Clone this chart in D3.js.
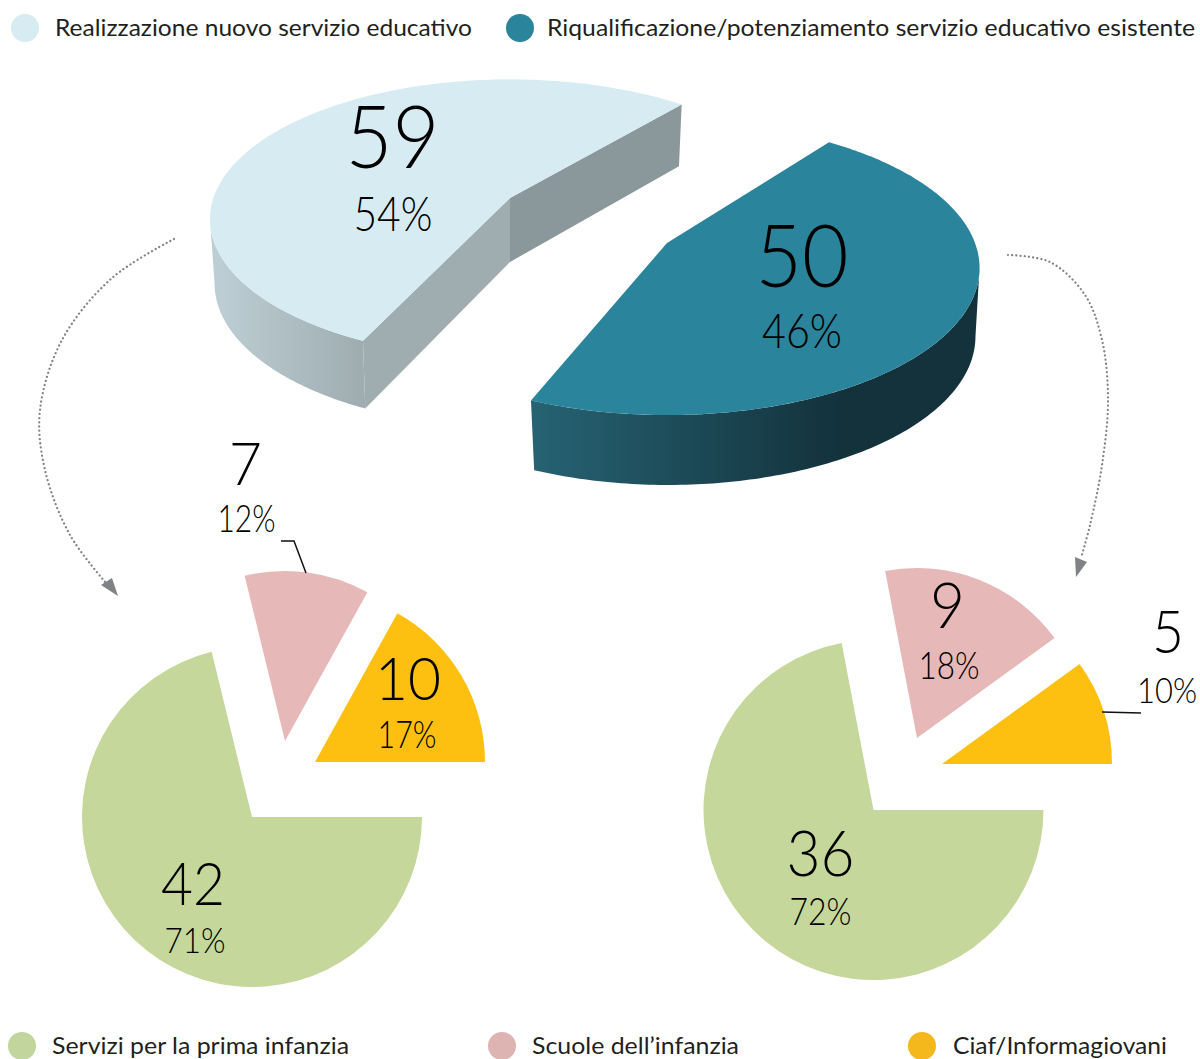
<!DOCTYPE html>
<html><head><meta charset="utf-8">
<script src="https://cdn.jsdelivr.net/npm/d3@7"></script>
<style>html,body{margin:0;padding:0;background:#fff}svg{display:block}text{fill:#000}</style>
</head><body><svg id="c" width="1200" height="1059"></svg>
<script>
const topCategories = ["Riqualificazione/potenziamento servizio educativo esistente","Realizzazione nuovo servizio educativo"];
const topValues = [50,59];
const topPercents = ["46%","54%"];
const subCategories = ["Servizi per la prima infanzia","Scuole dell’infanzia","Ciaf/Informagiovani"];
const leftValues = [42,7,10];
const leftPercents = ["71%","12%","17%"];
const rightValues = [36,9,5];
const rightPercents = ["72%","18%","10%"];

const svg = d3.select("#c");
const defs = svg.append("defs");
const DEG = Math.PI/180;
const NUM = "Lato, sans-serif", LEG = "Lato, sans-serif";
const subColors = d3.scaleOrdinal(subCategories,["#c5d79a","#e6b8b7","#fdc010"]);

function grad(id,x1,x2,c1,c2){
  const g=defs.append("linearGradient").attr("id",id).attr("gradientUnits","userSpaceOnUse")
    .attr("x1",x1).attr("x2",x2).attr("y1",0).attr("y2",0);
  g.append("stop").attr("offset",0).attr("stop-color",c1);
  g.append("stop").attr("offset",1).attr("stop-color",c2);
}
grad("wallLight",222,362,"#bccdd3","#9fadb1");
grad("wallDark",537,840,"#266272","#13323c");

// perspective projection of a unit-circle angle (clockwise from top)
const projector = (cx,cy,rx,ry,a) => t => {
  const u=Math.sin(t), v=-Math.cos(t), w=1-a*v;
  return [cx+rx*u/w, cy+ry*v/w];
};
const lineGen = d3.line();
const sample = (p,t0,t1,n=120) => d3.range(n+1).map(i=>p(t0+(t1-t0)*i/n));

const topPie = d3.pie().sort(null).startAngle(37.5*DEG).endAngle(397.5*DEG)(topValues);
const darkArc = topPie[0], lightArc = topPie[1];
const lightTurn = 2.7*DEG, darkTurn = -0.8*DEG;

// light slice
{
  const a=.151;
  const top=projector(510,198,296.6,136.5,a), bot=projector(510,262,292,140,a);
  const ap=[510,198], bp=[510,262], s=lightArc.startAngle+lightTurn, e=lightArc.endAngle+lightTurn;
  const edge=2*Math.PI-Math.acos(-a);
  svg.append("path").attr("fill","url(#wallLight)")
    .attr("d",lineGen([...sample(top,s,edge),...sample(bot,edge,s)])+"Z");
  svg.append("path").attr("fill","#9fadb1")
    .attr("d",lineGen([ap,top(s),bot(s),bp])+"Z");
  svg.append("path").attr("fill","#8a989c")
    .attr("d",lineGen([ap,top(e),bot(e),bp])+"Z");
  svg.append("path").attr("fill","#d6ebf2")
    .attr("d",lineGen([ap,...sample(top,s,e,200)])+"Z");
}
// dark slice
{
  const a=.17;
  const top=projector(667,243,308,142.8,a), bot=projector(668,311,303,144.4,a);
  const ap=[667,243], s=darkArc.startAngle+darkTurn, e=darkArc.endAngle+darkTurn;
  const edge=Math.acos(-a);
  svg.append("path").attr("fill","url(#wallDark)")
    .attr("d",lineGen([...sample(top,edge,e),...sample(bot,e,edge)])+"Z");
  svg.append("path").attr("fill","#2a849b")
    .attr("d",lineGen([ap,...sample(top,s,e,200)])+"Z");
}

// lower exploded pies
const arc = d3.arc().innerRadius(0);
const subPie = d3.pie().sort(null).startAngle(Math.PI/2).endAngle(Math.PI/2+2*Math.PI);
function drawSub(values,apexes,r){
  subPie(values).forEach((d,i)=>{
    svg.append("path").attr("fill",subColors(subCategories[i]))
      .attr("transform",`translate(${apexes[i]})`)
      .attr("d",arc.outerRadius(r)(d));
  });
}
drawSub(leftValues,[[252,817],[285,741],[315,762]],170);
drawSub(rightValues,[[873.5,810],[917,738],[942,764]],170);

// leaders
const leader=(pts)=>svg.append("path").attr("fill","none").attr("stroke","#111").attr("stroke-width",1.5).attr("d",lineGen(pts));
leader([[281,541],[294,541],[306,573]]);
leader([[1102,712],[1141,713]]);

// dotted arrows
const curve=d3.line().curve(d3.curveCatmullRom.alpha(.5));
function arrow(pts,head){
  svg.append("path").attr("fill","none").attr("stroke","#808285").attr("stroke-width",2.2)
    .attr("stroke-linecap","round").attr("stroke-dasharray","0.1 4.1").attr("d",curve(pts));
  svg.append("path").attr("fill","#808285").attr("d",lineGen(head)+"Z");
}
arrow([[174,239],[112,278],[62,340],[40,410],[45,470],[70,535],[106,583]],[[118,596],[101,585],[112,578]]);
arrow([[1008,255],[1050,262],[1085,295],[1102,340],[1108,400],[1102,465],[1090,525],[1081,558]],[[1076,577],[1075,557],[1087,562]]);

// value labels
function label(val,pct,x1,y1,s1,l1,x2,y2,s2,l2){
  svg.append("text").attr("x",x1).attr("y",y1).attr("text-anchor","middle").attr("font-family",NUM)
    .attr("font-weight",300).attr("font-size",s1)
    .attr("textLength",l1).attr("lengthAdjust","spacingAndGlyphs").text(val);
  svg.append("text").attr("x",x2).attr("y",y2).attr("text-anchor","middle").attr("font-family",NUM)
    .attr("font-weight",300).attr("font-size",s2)
    .attr("textLength",l2).attr("lengthAdjust","spacingAndGlyphs").text(pct);
}
label(topValues[1],topPercents[1],392.5,168,86,94,393,231,47,79);
label(topValues[0],topPercents[0],802,287,86,93,802,348,47,80);
label(leftValues[0],leftPercents[0],193,905,60,64,195,953,36,61);
label(leftValues[1],leftPercents[1],245.5,485,60,33,246.5,532,37,58);
label(leftValues[2],leftPercents[2],408,700,60,66,407,748,37,59);
label(rightValues[0],rightPercents[0],820.5,876,64,68,820.5,925,38,62);
label(rightValues[1],rightPercents[1],947.5,628,64,35,949,679,38,61);
label(rightValues[2],rightPercents[2],1168,653,60,32,1167,703,35,60);

// legends
function legend(name,color,cx,cy,r,tx,ty,len){
  svg.append("circle").attr("cx",cx).attr("cy",cy).attr("r",r).attr("fill",color);
  svg.append("text").attr("x",tx).attr("y",ty).attr("font-family",LEG).attr("font-size",24)
    .attr("fill","#231f20").style("fill","#231f20")
    .attr("textLength",len).attr("lengthAdjust","spacingAndGlyphs").text(name);
}
legend(topCategories[1],"#d6ebf2",25,28,14,55,36,417);
legend(topCategories[0],"#2a849b",520,28,14,547,36,648);
legend(subCategories[0],"#c2d59c",22,1046,14,52,1054,297);
legend(subCategories[1],"#ddb4b2",502,1046,14,532,1054,207);
legend(subCategories[2],"#f4b81c",922,1046,14,953,1054,214);
</script></body></html>
